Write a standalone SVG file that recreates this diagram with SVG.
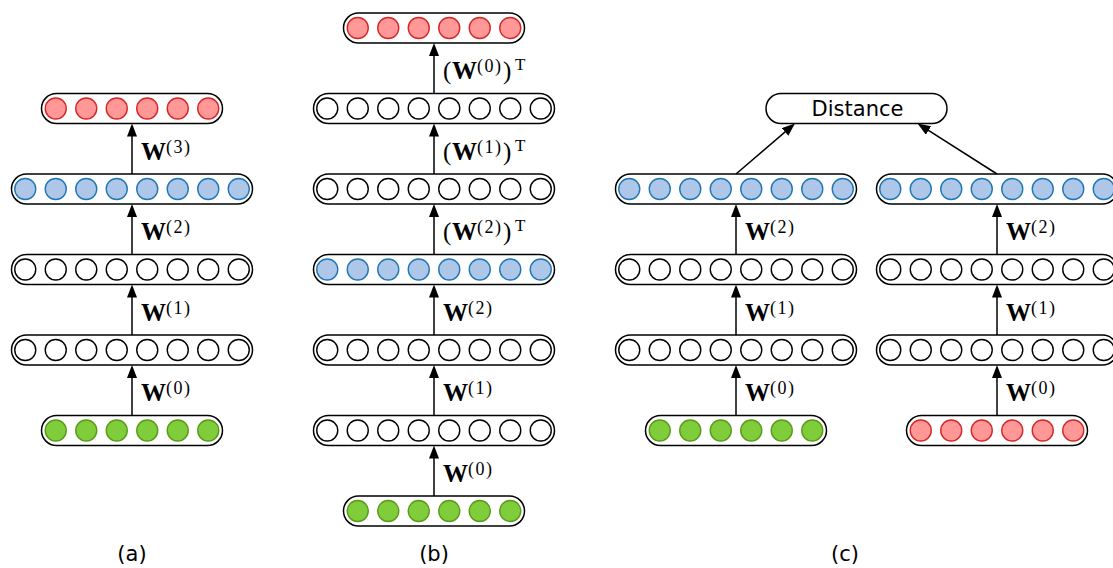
<svg xmlns="http://www.w3.org/2000/svg" xmlns:xlink="http://www.w3.org/1999/xlink" width="1113" height="568" viewBox="0 0 1113 568">
<style>
.bar{fill:#fff;stroke:#000;stroke-width:1.5}
.w{fill:#fff;stroke:#000;stroke-width:1.4}
.b{fill:#aec7e8;stroke:#1f77b4;stroke-width:1.4}
.r{fill:#ff9896;stroke:#d62728;stroke-width:1.4}
.g{fill:#7fcd3b;stroke:#5a9a18;stroke-width:1.4}
#connectors line{stroke:#000;stroke-width:1.5;marker-end:url(#ah)}
.lbl{font-family:"Liberation Serif","Times New Roman",serif;font-size:25px;fill:#000}
.W{font-weight:bold}
.s{font-size:18px;letter-spacing:1.5px}
.t{font-size:17px}
.sans{font-family:"DejaVu Sans","Liberation Sans",sans-serif;font-size:21px;text-anchor:middle;fill:#000}
</style>
<defs>
<marker id="ah" markerUnits="userSpaceOnUse" markerWidth="14" markerHeight="11" refX="7" refY="5" orient="auto">
<path d="M0,0 L13,5 L0,10 z" fill="#000"/>
</marker>
<rect id="bar8" x="-120.5" y="-15" width="241" height="30" rx="15"/>
<rect id="bar6" x="-90.5" y="-15" width="181" height="30" rx="15"/>
<g id="row8">
<circle cx="-106.75" cy="0" r="10.5"/><circle cx="-76.25" cy="0" r="10.5"/><circle cx="-45.75" cy="0" r="10.5"/><circle cx="-15.25" cy="0" r="10.5"/>
<circle cx="15.25" cy="0" r="10.5"/><circle cx="45.75" cy="0" r="10.5"/><circle cx="76.25" cy="0" r="10.5"/><circle cx="106.75" cy="0" r="10.5"/>
</g>
<g id="row6">
<circle cx="-76.25" cy="0" r="10.5"/><circle cx="-45.75" cy="0" r="10.5"/><circle cx="-15.25" cy="0" r="10.5"/>
<circle cx="15.25" cy="0" r="10.5"/><circle cx="45.75" cy="0" r="10.5"/><circle cx="76.25" cy="0" r="10.5"/>
</g>
</defs>
<rect width="1113" height="568" fill="#fff"/>

<!-- Panel (a) -->
<g id="a-out" transform="translate(132,108.5)"><use href="#bar6" class="bar"/><use href="#row6" class="r"/></g>
<g id="a-code" transform="translate(132,189)"><use href="#bar8" class="bar"/><use href="#row8" class="b"/></g>
<g id="a-h2" transform="translate(132,269.5)"><use href="#bar8" class="bar"/><use href="#row8" class="w"/></g>
<g id="a-h1" transform="translate(132,350)"><use href="#bar8" class="bar"/><use href="#row8" class="w"/></g>
<g id="a-in" transform="translate(132,430.5)"><use href="#bar6" class="bar"/><use href="#row6" class="g"/></g>

<!-- Panel (b) -->
<g id="b-out" transform="translate(434,28)"><use href="#bar6" class="bar"/><use href="#row6" class="r"/></g>
<g id="b-d1" transform="translate(434,108.5)"><use href="#bar8" class="bar"/><use href="#row8" class="w"/></g>
<g id="b-d2" transform="translate(434,189)"><use href="#bar8" class="bar"/><use href="#row8" class="w"/></g>
<g id="b-code" transform="translate(434,269.5)"><use href="#bar8" class="bar"/><use href="#row8" class="b"/></g>
<g id="b-e2" transform="translate(434,350)"><use href="#bar8" class="bar"/><use href="#row8" class="w"/></g>
<g id="b-e1" transform="translate(434,430.5)"><use href="#bar8" class="bar"/><use href="#row8" class="w"/></g>
<g id="b-in" transform="translate(434,511)"><use href="#bar6" class="bar"/><use href="#row6" class="g"/></g>

<!-- Panel (c) -->
<g id="c-dist"><rect x="766" y="93.5" width="181" height="30" rx="15" class="bar"/><text class="sans" x="857.5" y="116">Distance</text></g>
<g id="c-l-code" transform="translate(736,189)"><use href="#bar8" class="bar"/><use href="#row8" class="b"/></g>
<g id="c-l-h2" transform="translate(736,269.5)"><use href="#bar8" class="bar"/><use href="#row8" class="w"/></g>
<g id="c-l-h1" transform="translate(736,350)"><use href="#bar8" class="bar"/><use href="#row8" class="w"/></g>
<g id="c-l-in" transform="translate(736,430.5)"><use href="#bar6" class="bar"/><use href="#row6" class="g"/></g>
<g id="c-r-code" transform="translate(997,189)"><use href="#bar8" class="bar"/><use href="#row8" class="b"/></g>
<g id="c-r-h2" transform="translate(997,269.5)"><use href="#bar8" class="bar"/><use href="#row8" class="w"/></g>
<g id="c-r-h1" transform="translate(997,350)"><use href="#bar8" class="bar"/><use href="#row8" class="w"/></g>
<g id="c-r-in" transform="translate(997,430.5)"><use href="#bar6" class="bar"/><use href="#row6" class="r"/></g>

<g id="connectors">
<line x1="132" y1="415.5" x2="132" y2="371"/>
<line x1="132" y1="335" x2="132" y2="290.5"/>
<line x1="132" y1="254.5" x2="132" y2="210"/>
<line x1="132" y1="174" x2="132" y2="129.5"/>
<line x1="434" y1="496" x2="434" y2="451.5"/>
<line x1="434" y1="415.5" x2="434" y2="371"/>
<line x1="434" y1="335" x2="434" y2="290.5"/>
<line x1="434" y1="254.5" x2="434" y2="210"/>
<line x1="434" y1="174" x2="434" y2="129.5"/>
<line x1="434" y1="93.5" x2="434" y2="49"/>
<line x1="736" y1="415.5" x2="736" y2="371"/>
<line x1="736" y1="335" x2="736" y2="290.5"/>
<line x1="736" y1="254.5" x2="736" y2="210"/>
<line x1="997" y1="415.5" x2="997" y2="371"/>
<line x1="997" y1="335" x2="997" y2="290.5"/>
<line x1="997" y1="254.5" x2="997" y2="210"/>
<line x1="736" y1="174" x2="790.4" y2="127.4"/>
<line x1="997" y1="174" x2="922.6" y2="126.7"/>
</g>

<g id="labels">
<text class="lbl"><tspan class="W" x="141" y="401">W</tspan><tspan class="s" x="166" y="394">(0)</tspan></text>
<text class="lbl"><tspan class="W" x="141" y="320.5">W</tspan><tspan class="s" x="166" y="313.5">(1)</tspan></text>
<text class="lbl"><tspan class="W" x="141" y="240">W</tspan><tspan class="s" x="166" y="233">(2)</tspan></text>
<text class="lbl"><tspan class="W" x="141" y="159.5">W</tspan><tspan class="s" x="166" y="152.5">(3)</tspan></text>

<text class="lbl"><tspan class="W" x="443" y="481.5">W</tspan><tspan class="s" x="468" y="474.5">(0)</tspan></text>
<text class="lbl"><tspan class="W" x="443" y="401">W</tspan><tspan class="s" x="468" y="394">(1)</tspan></text>
<text class="lbl"><tspan class="W" x="443" y="320.5">W</tspan><tspan class="s" x="468" y="313.5">(2)</tspan></text>
<text class="lbl"><tspan x="443" y="240">(</tspan><tspan class="W" x="452" y="240">W</tspan><tspan class="s" x="477" y="233">(2)</tspan><tspan x="503" y="240">)</tspan><tspan class="t" x="515" y="231">T</tspan></text>
<text class="lbl"><tspan x="443" y="159.5">(</tspan><tspan class="W" x="452" y="159.5">W</tspan><tspan class="s" x="477" y="152.5">(1)</tspan><tspan x="503" y="159.5">)</tspan><tspan class="t" x="515" y="150.5">T</tspan></text>
<text class="lbl"><tspan x="443" y="79">(</tspan><tspan class="W" x="452" y="79">W</tspan><tspan class="s" x="477" y="72">(0)</tspan><tspan x="503" y="79">)</tspan><tspan class="t" x="515" y="70">T</tspan></text>

<text class="lbl"><tspan class="W" x="745" y="401">W</tspan><tspan class="s" x="770" y="394">(0)</tspan></text>
<text class="lbl"><tspan class="W" x="745" y="320.5">W</tspan><tspan class="s" x="770" y="313.5">(1)</tspan></text>
<text class="lbl"><tspan class="W" x="745" y="240">W</tspan><tspan class="s" x="770" y="233">(2)</tspan></text>
<text class="lbl"><tspan class="W" x="1006" y="401">W</tspan><tspan class="s" x="1031" y="394">(0)</tspan></text>
<text class="lbl"><tspan class="W" x="1006" y="320.5">W</tspan><tspan class="s" x="1031" y="313.5">(1)</tspan></text>
<text class="lbl"><tspan class="W" x="1006" y="240">W</tspan><tspan class="s" x="1031" y="233">(2)</tspan></text>

<text class="sans" x="132" y="561">(a)</text>
<text class="sans" x="434" y="561">(b)</text>
<text class="sans" x="845" y="561">(c)</text>
</g>
</svg>
